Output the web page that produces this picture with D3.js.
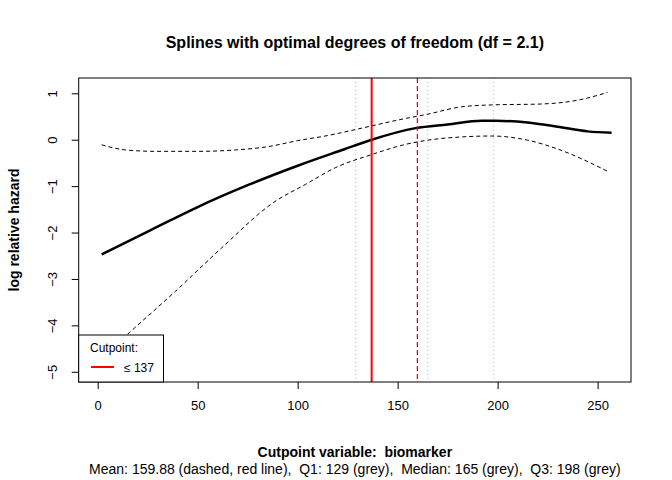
<!DOCTYPE html>
<html>
<head>
  <meta charset="utf-8">
  <title>splines</title>
  <style>
    body { margin: 0; background: #fff; }
    text { font-family: "Liberation Sans", Arial, sans-serif; }
  </style>
</head>
<body>
  <svg width="672" height="480" class="chart"></svg>

  <script src="https://d3js.org/d3.v7.min.js"></script>
  <script type="text/javascript">

  // fitted spline and its confidence band
  var fitX = [2, 25, 50, 75, 100, 123, 137, 159, 175, 192, 199, 215, 230, 245, 257];
  var fitY = [-2.47, -1.98, -1.45, -0.98, -0.56, -0.21, 0, 0.25, 0.33, 0.41, 0.41, 0.37, 0.28, 0.18, 0.15];

  var upX = [2, 14, 29, 50, 69, 85, 100, 115, 130, 153, 165, 182, 197, 222, 241, 255];
  var upY = [-0.11, -0.22, -0.25, -0.25, -0.22, -0.15, -0.02, 0.09, 0.23, 0.45, 0.55, 0.71, 0.75, 0.77, 0.86, 1.02];

  var loX = [2, 16, 39, 62, 88, 104, 119, 137, 153, 165, 182, 197, 215, 230, 255];
  var loY = [-4.7, -4.15, -3.26, -2.33, -1.35, -0.96, -0.60, -0.32, -0.11, -0.01, 0.06, 0.08, -0.01, -0.20, -0.68];

  var cutpoint = 137;
  var meanVal = 159.88;
  var quartiles = [129, 165, 198];

  var xTicks = [0, 50, 100, 150, 200, 250];
  var yTicks = [1, 0, -1, -2, -3, -4, -5];

  var svg = d3.select(".chart");
  var pL = 78.7, pR = 631, pT = 78, pB = 382;

  var x = d3.scaleLinear().domain([-9.5, 266.7]).range([pL, pR]);
  var y = d3.scaleLinear().domain([-5.22, 1.33]).range([pB, pT]);

  svg.append("defs").append("clipPath").attr("id", "clip")
    .append("rect").attr("x", pL).attr("y", pT)
    .attr("width", pR - pL).attr("height", pB - pT);

  var plot = svg.append("g").attr("clip-path", "url(#clip)");

  // quartile lines
  plot.selectAll(".q").data(quartiles).enter().append("line")
    .attr("x1", d => x(d)).attr("x2", d => x(d))
    .attr("y1", pT).attr("y2", pB)
    .attr("stroke", "#bebebe").attr("stroke-dasharray", "1,3");

  var line = d3.line().curve(d3.curveMonotoneX);
  function pts(xs, ys) { return xs.map((v, i) => [x(v), y(ys[i])]); }

  plot.append("path").attr("d", line(pts(upX, upY)))
    .attr("fill", "none").attr("stroke", "#000").attr("stroke-dasharray", "4,3");
  plot.append("path").attr("d", line(pts(loX, loY)))
    .attr("fill", "none").attr("stroke", "#000").attr("stroke-dasharray", "4,3");
  plot.append("path").attr("d", line(pts(fitX, fitY)))
    .attr("fill", "none").attr("stroke", "#000").attr("stroke-width", 2.5);

  plot.append("line")
    .attr("x1", x(cutpoint)).attr("x2", x(cutpoint)).attr("y1", pT).attr("y2", pB)
    .attr("stroke", "#ff0000").attr("stroke-width", 2);
  plot.append("line")
    .attr("x1", x(meanVal)).attr("x2", x(meanVal)).attr("y1", pT).attr("y2", pB)
    .attr("stroke", "#ff0000").attr("stroke-width", 1.3).attr("stroke-dasharray", "5,3");

  // axes
  var xAxis = svg.append("g").attr("transform", "translate(0," + pB + ")")
    .call(d3.axisBottom(x).tickValues(xTicks).tickSize(7).tickPadding(12));
  xAxis.select(".domain").remove();
  xAxis.selectAll("text").style("font-size", "13px").attr("fill", "#000");

  var yAxis = svg.append("g").attr("transform", "translate(" + pL + ",0)")
    .call(d3.axisLeft(y).tickValues(yTicks).tickSize(7).tickFormat(d3.format("d")));
  yAxis.select(".domain").remove();
  yAxis.selectAll("text")
    .attr("x", null)
    .attr("transform", "translate(-26,0) rotate(-90)")
    .attr("text-anchor", "middle").attr("dy", "0.35em")
    .style("font-size", "13px").attr("fill", "#000");

  svg.append("rect").attr("x", pL).attr("y", pT)
    .attr("width", pR - pL).attr("height", pB - pT)
    .attr("fill", "none").attr("stroke", "#000");

  // legend
  var lg = svg.append("g");
  lg.append("rect").attr("x", pL).attr("y", 335).attr("width", 163.5 - pL).attr("height", pB - 335)
    .attr("fill", "#fff").attr("stroke", "#000");
  lg.append("text").attr("x", 90).attr("y", 352).text("Cutpoint:").style("font-size", "12px");
  lg.append("line").attr("x1", 91).attr("x2", 114).attr("y1", 367).attr("y2", 367)
    .attr("stroke", "#ff0000").attr("stroke-width", 2);
  lg.append("text").attr("x", 124).attr("y", 372).text("≤ 137").style("font-size", "12px");

  // titles
  svg.append("text").attr("x", (pL + pR) / 2).attr("y", 48).attr("text-anchor", "middle")
    .style("font-size", "16px").style("font-weight", "bold")
    .text("Splines with optimal degrees of freedom (df = 2.1)");
  svg.append("text").attr("transform", "translate(19," + (pT + pB) / 2 + ") rotate(-90)")
    .attr("text-anchor", "middle").style("font-size", "14px").style("font-weight", "bold")
    .text("log relative hazard");
  svg.append("text").attr("x", (pL + pR) / 2).attr("y", 457).attr("text-anchor", "middle")
    .style("font-size", "14px").style("font-weight", "bold").style("white-space", "pre")
    .text("Cutpoint variable:  biomarker");
  svg.append("text").attr("x", (pL + pR) / 2).attr("y", 474).attr("text-anchor", "middle")
    .style("font-size", "14px").style("white-space", "pre")
    .text("Mean: 159.88 (dashed, red line),  Q1: 129 (grey),  Median: 165 (grey),  Q3: 198 (grey)");

  </script>
</body>
</html>
